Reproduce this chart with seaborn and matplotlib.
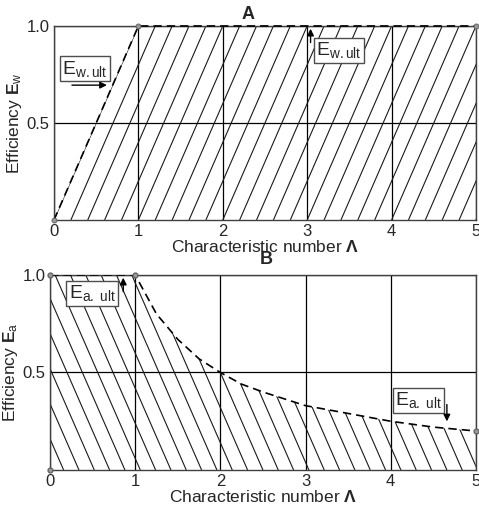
import numpy as np
import seaborn as sns
import matplotlib.pyplot as plt
from matplotlib.collections import LineCollection

# values
lam_w = [0, 1, 5]
eff_w = [0, 1, 1]
lam_a = [0, 1, 1.25, 1.5, 1.75, 2, 2.25, 2.5, 3, 3.5, 4, 4.5, 5]
eff_a = [1, 1, 0.8, 0.67, 0.57, 0.5, 0.44, 0.4, 0.33, 0.29, 0.25, 0.22, 0.2]
x_ticks = [0, 1, 2, 3, 4, 5]
y_ticks = [0.5, 1.0]

sns.set_style('white')
plt.rcParams['font.family'] = ['Liberation Sans', 'DejaVu Sans']
plt.rcParams['mathtext.fontset'] = 'custom'
plt.rcParams['mathtext.rm'] = 'Liberation Sans'
plt.rcParams['mathtext.it'] = 'Liberation Sans'
plt.rcParams['mathtext.bf'] = 'Liberation Sans:bold'

fig = plt.figure(figsize=(4.79, 5.12), dpi=100)
ax1 = fig.add_axes([0.1127, 0.5703, 0.881, 0.379])
ax2 = fig.add_axes([0.1044, 0.082, 0.889, 0.381])


def hatch(ax, x, y, down, step):
    poly = ax.fill_between(x, y, 0, color='none', lw=0)
    segs = []
    for x0 in np.arange(-1.2, 6.2, step):
        if down:
            segs.append([(x0, 1), (x0 + 1, 0)])
        else:
            segs.append([(x0, 0), (x0 + 1, 1)])
    lc = LineCollection(segs, colors='0.1', linewidths=0.8)
    ax.add_collection(lc)
    lc.set_clip_path(poly.get_paths()[0], ax.transData)


def style(ax, sub):
    ax.set_xlim(0, 5)
    ax.set_ylim(0, 1)
    ax.set_xticks(x_ticks)
    ax.set_yticks(y_ticks)
    ax.set_yticklabels(['0.5', '1.0'])
    ax.tick_params(length=0, labelsize=12, pad=3)
    ax.grid(True, color='k', lw=0.9)
    for s in ax.spines.values():
        s.set_color('0.25')
        s.set_linewidth(1.0)
    ax.set_xlabel(r'Characteristic number $\mathbf{\Lambda}$', fontsize=12.5, labelpad=0)
    ax.set_ylabel(r'Efficiency $\mathbf{E}_{\mathrm{%s}}$' % sub, fontsize=12.5, labelpad=2)


# panel A
hatch(ax1, lam_w, eff_w, down=False, step=0.2)
sns.lineplot(x=lam_w, y=eff_w, ax=ax1, color='k', lw=1.2, linestyle=(0, (5, 3)),
             marker='o', markersize=3.5, markerfacecolor='0.6', markeredgecolor='0.4',
             clip_on=False, zorder=5)
style(ax1, 'w')
box = dict(boxstyle='square,pad=0.12', fc='white', ec='0.3', lw=1)
ax1.text(0.1, 0.78, r'$\mathrm{E_{w.ult}}$', fontsize=14, va='center', bbox=box, zorder=6)
ax1.annotate('', xy=(0.66, 0.695), xytext=(0.18, 0.695),
             arrowprops=dict(arrowstyle='-|>', color='k', lw=1, mutation_scale=10), zorder=6)
ax1.text(3.11, 0.875, r'$\mathrm{E_{w.ult}}$', fontsize=14, va='center', bbox=box, zorder=6)
ax1.annotate('', xy=(3.04, 1.0), xytext=(3.04, 0.9),
             arrowprops=dict(arrowstyle='-|>', color='k', lw=1, mutation_scale=10), zorder=6)
fig.text(0.518, 0.972, 'A', fontsize=13, fontweight='bold', ha='center', va='center')

# panel B
hatch(ax2, lam_a, eff_a, down=True, step=0.18)
sns.lineplot(x=lam_a, y=eff_a, ax=ax2, color='k', lw=1.2, linestyle=(0, (5, 3)),
             zorder=5)
ax2.plot([0, 0, 1, 5], [0, 1, 1, eff_a[-1]], ls='none', marker='o', markersize=3.5,
         markerfacecolor='0.6', markeredgecolor='0.4', clip_on=False, zorder=5)
style(ax2, 'a')
ax2.text(0.22, 0.905, r'$\mathrm{E_{a.\ ult}}$', fontsize=14, va='center', bbox=box, zorder=6)
ax2.annotate('', xy=(0.86, 1.0), xytext=(0.86, 0.9),
             arrowprops=dict(arrowstyle='-|>', color='k', lw=1, mutation_scale=10), zorder=6)
ax2.text(4.05, 0.357, r'$\mathrm{E_{a.\ ult}}$', fontsize=14, va='center', bbox=box, zorder=6)
ax2.annotate('', xy=(4.66, 0.235), xytext=(4.66, 0.35),
             arrowprops=dict(arrowstyle='-|>', color='k', lw=1, mutation_scale=10), zorder=6)
fig.text(0.556, 0.494, 'B', fontsize=13, fontweight='bold', ha='center', va='center')

fig.savefig('out.png', dpi=100)
